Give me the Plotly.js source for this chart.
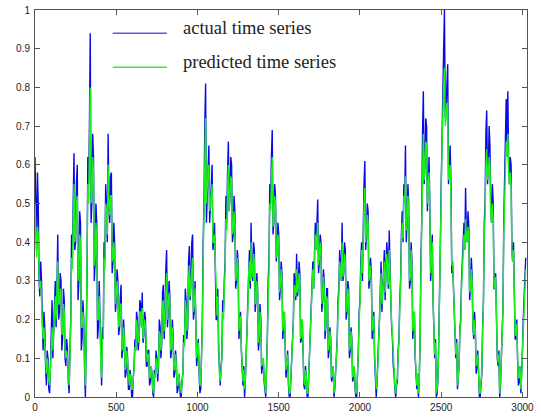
<!DOCTYPE html>
<html>
<head>
<meta charset="utf-8">
<script src="https://cdn.plot.ly/plotly-3.0.1.min.js"></script>
<style>html,body{margin:0;padding:0;background:#fff;}#chart{width:541px;height:417px;}</style>
</head>
<body>
<div id="chart"></div>
<script>
// sample spacing of the series (time steps)
const sampleStart = 0;
const sampleStep = 5;

const actualSeries = [
0.62,0.45,0.38,0.58,0.50,0.30,0.26,0.35,0.30,0.20,0.12,0.22,0.18,0.08,0.03,0.12,0.10,0.02,0.01,0.08,
0.15,0.25,0.10,0.20,0.24,0.30,0.18,0.28,0.42,0.20,0.22,0.32,0.30,0.12,0.15,0.28,0.25,0.10,0.08,0.15,
0.12,0.04,0.01,0.12,0.20,0.42,0.35,0.50,0.63,0.38,0.40,0.55,0.60,0.25,0.30,0.48,0.45,0.12,0.15,0.25,
0.20,0.08,0.00,0.15,0.30,0.62,0.55,0.70,0.94,0.45,0.50,0.68,0.62,0.30,0.35,0.50,0.45,0.15,0.18,0.30,
0.22,0.08,0.03,0.18,0.15,0.40,0.35,0.55,0.50,0.40,0.68,0.50,0.45,0.57,0.58,0.32,0.35,0.45,0.40,0.22,
0.25,0.33,0.30,0.16,0.18,0.26,0.29,0.10,0.12,0.20,0.16,0.05,0.06,0.13,0.10,0.02,0.02,0.07,0.05,0.00,
0.00,0.05,0.08,0.15,0.12,0.22,0.20,0.12,0.15,0.25,0.24,0.18,0.27,0.14,0.16,0.22,0.20,0.08,0.08,0.12,
0.12,0.03,0.04,0.08,0.06,0.01,0.00,0.07,0.05,0.12,0.10,0.04,0.08,0.20,0.18,0.10,0.14,0.27,0.29,0.15,
0.20,0.33,0.38,0.18,0.22,0.30,0.26,0.10,0.12,0.20,0.16,0.05,0.06,0.12,0.09,0.01,0.02,0.06,0.04,0.00,
0.00,0.04,0.06,0.16,0.14,0.28,0.25,0.15,0.18,0.35,0.39,0.25,0.30,0.40,0.42,0.20,0.22,0.30,0.15,0.08,
0.11,0.15,0.06,0.01,0.02,0.12,0.20,0.40,0.50,0.70,0.81,0.45,0.52,0.62,0.65,0.45,0.50,0.58,0.60,0.38,
0.40,0.45,0.32,0.20,0.20,0.28,0.12,0.05,0.03,0.08,0.10,0.25,0.22,0.30,0.35,0.52,0.45,0.58,0.66,0.48,
0.52,0.62,0.60,0.40,0.42,0.52,0.48,0.28,0.30,0.38,0.35,0.15,0.18,0.22,0.12,0.04,0.03,0.08,0.00,0.05,
0.10,0.18,0.25,0.35,0.38,0.28,0.45,0.32,0.30,0.40,0.38,0.22,0.25,0.32,0.28,0.12,0.15,0.24,0.20,0.06,
0.08,0.10,0.04,0.01,0.00,0.08,0.15,0.30,0.35,0.55,0.50,0.62,0.69,0.42,0.45,0.55,0.52,0.35,0.38,0.45,
0.42,0.25,0.28,0.35,0.32,0.15,0.18,0.22,0.12,0.05,0.08,0.12,0.03,0.00,0.00,0.06,0.08,0.18,0.20,0.32,
0.30,0.25,0.37,0.26,0.28,0.35,0.32,0.14,0.15,0.20,0.10,0.03,0.02,0.08,0.05,0.00,0.00,0.06,0.10,0.18,
0.22,0.30,0.35,0.28,0.42,0.45,0.38,0.48,0.51,0.32,0.35,0.42,0.40,0.22,0.25,0.33,0.30,0.15,0.18,0.28,
0.28,0.10,0.12,0.18,0.15,0.04,0.05,0.08,0.00,0.02,0.06,0.12,0.15,0.25,0.28,0.38,0.35,0.30,0.45,0.30,
0.32,0.40,0.38,0.20,0.22,0.30,0.28,0.10,0.12,0.18,0.15,0.04,0.05,0.08,0.02,0.00,0.00,0.05,0.12,0.22,
0.25,0.35,0.40,0.30,0.50,0.55,0.61,0.38,0.42,0.50,0.48,0.28,0.30,0.36,0.32,0.15,0.18,0.22,0.10,0.03,
0.00,0.04,0.08,0.15,0.20,0.30,0.35,0.22,0.28,0.36,0.38,0.25,0.32,0.40,0.36,0.28,0.43,0.30,0.25,0.18,
0.15,0.08,0.06,0.02,0.00,0.03,0.04,0.12,0.15,0.25,0.30,0.42,0.48,0.40,0.55,0.50,0.65,0.40,0.45,0.55,
0.50,0.28,0.30,0.40,0.35,0.15,0.18,0.22,0.10,0.03,0.02,0.06,0.00,0.05,0.15,0.35,0.45,0.68,0.79,0.55,
0.60,0.72,0.70,0.48,0.55,0.62,0.50,0.30,0.35,0.42,0.25,0.12,0.10,0.15,0.00,0.01,0.05,0.15,0.25,0.40,
0.55,0.70,0.80,0.90,1.00,0.72,0.75,0.85,0.86,0.55,0.60,0.65,0.55,0.32,0.35,0.28,0.22,0.12,0.10,0.15,
0.02,0.05,0.08,0.18,0.20,0.30,0.35,0.42,0.45,0.38,0.54,0.42,0.40,0.48,0.44,0.25,0.28,0.36,0.32,0.18,
0.15,0.22,0.18,0.06,0.08,0.12,0.05,0.00,0.00,0.04,0.06,0.18,0.25,0.45,0.50,0.68,0.74,0.55,0.60,0.70,
0.65,0.48,0.45,0.55,0.50,0.28,0.28,0.32,0.20,0.10,0.08,0.12,0.00,0.03,0.10,0.18,0.23,0.45,0.55,0.70,
0.77,0.65,0.79,0.60,0.55,0.62,0.60,0.38,0.35,0.40,0.30,0.15,0.15,0.20,0.10,0.03,0.04,0.08,0.01,0.05,
0.12,0.20,0.25,0.30,0.36
];

const predictedSeries = [
0.50,0.40,0.36,0.44,0.42,0.32,0.28,0.30,0.25,0.20,0.15,0.18,0.14,0.10,0.06,0.10,0.08,0.04,0.03,0.07,
0.12,0.18,0.12,0.18,0.22,0.26,0.20,0.26,0.35,0.24,0.24,0.28,0.27,0.16,0.17,0.24,0.22,0.12,0.10,0.12,
0.10,0.05,0.03,0.10,0.18,0.36,0.33,0.45,0.55,0.40,0.42,0.50,0.52,0.30,0.32,0.42,0.40,0.18,0.18,0.22,
0.18,0.08,0.03,0.14,0.28,0.55,0.50,0.65,0.80,0.50,0.52,0.62,0.58,0.34,0.36,0.45,0.40,0.20,0.20,0.26,
0.20,0.08,0.05,0.15,0.15,0.36,0.33,0.50,0.48,0.42,0.60,0.50,0.47,0.52,0.52,0.35,0.36,0.40,0.36,0.24,
0.26,0.30,0.27,0.18,0.19,0.24,0.24,0.12,0.13,0.18,0.15,0.07,0.08,0.12,0.09,0.04,0.03,0.06,0.05,0.02,
0.02,0.05,0.07,0.13,0.12,0.20,0.18,0.14,0.16,0.22,0.22,0.18,0.23,0.15,0.17,0.20,0.18,0.10,0.09,0.11,
0.11,0.05,0.05,0.08,0.06,0.02,0.01,0.06,0.05,0.10,0.09,0.06,0.09,0.17,0.16,0.12,0.15,0.24,0.25,0.17,
0.22,0.30,0.32,0.20,0.23,0.27,0.24,0.12,0.13,0.18,0.14,0.07,0.07,0.11,0.08,0.03,0.03,0.06,0.04,0.02,
0.01,0.04,0.06,0.14,0.13,0.25,0.23,0.17,0.20,0.31,0.34,0.26,0.30,0.35,0.36,0.22,0.24,0.28,0.16,0.10,
0.12,0.14,0.07,0.03,0.03,0.10,0.18,0.35,0.45,0.62,0.72,0.50,0.55,0.58,0.60,0.48,0.50,0.54,0.55,0.40,
0.40,0.42,0.32,0.22,0.21,0.26,0.13,0.06,0.04,0.08,0.10,0.22,0.20,0.28,0.33,0.46,0.43,0.54,0.60,0.48,
0.52,0.57,0.56,0.42,0.43,0.48,0.45,0.30,0.31,0.36,0.33,0.17,0.19,0.21,0.13,0.06,0.04,0.07,0.02,0.05,
0.10,0.16,0.23,0.32,0.35,0.30,0.40,0.32,0.31,0.37,0.35,0.24,0.25,0.30,0.27,0.14,0.16,0.22,0.18,0.08,
0.09,0.10,0.05,0.02,0.01,0.07,0.14,0.27,0.33,0.50,0.48,0.56,0.62,0.44,0.46,0.52,0.50,0.36,0.38,0.42,
0.40,0.27,0.29,0.33,0.30,0.17,0.19,0.22,0.13,0.07,0.09,0.11,0.04,0.01,0.01,0.06,0.08,0.16,0.19,0.29,
0.28,0.26,0.33,0.27,0.28,0.32,0.30,0.15,0.16,0.20,0.11,0.04,0.03,0.07,0.05,0.01,0.01,0.06,0.10,0.17,
0.21,0.28,0.33,0.28,0.40,0.42,0.38,0.43,0.45,0.34,0.36,0.40,0.38,0.24,0.26,0.31,0.28,0.17,0.19,0.26,
0.25,0.12,0.13,0.17,0.14,0.05,0.06,0.08,0.01,0.03,0.06,0.11,0.14,0.23,0.26,0.35,0.33,0.30,0.40,0.31,
0.33,0.37,0.35,0.22,0.23,0.28,0.26,0.12,0.13,0.17,0.14,0.05,0.06,0.08,0.03,0.01,0.01,0.05,0.11,0.20,
0.24,0.32,0.38,0.32,0.47,0.50,0.54,0.40,0.43,0.47,0.45,0.30,0.31,0.34,0.30,0.17,0.19,0.21,0.11,0.05,
0.02,0.05,0.08,0.14,0.19,0.28,0.32,0.24,0.29,0.34,0.35,0.27,0.32,0.37,0.34,0.29,0.38,0.30,0.26,0.19,
0.16,0.09,0.07,0.03,0.01,0.04,0.05,0.11,0.14,0.23,0.28,0.40,0.45,0.41,0.52,0.50,0.57,0.43,0.46,0.52,
0.47,0.30,0.31,0.38,0.33,0.17,0.19,0.22,0.11,0.05,0.03,0.06,0.01,0.05,0.14,0.32,0.42,0.60,0.68,0.56,
0.60,0.66,0.65,0.50,0.54,0.58,0.48,0.32,0.35,0.40,0.25,0.13,0.11,0.14,0.01,0.02,0.06,0.14,0.24,0.38,
0.52,0.65,0.75,0.80,0.85,0.70,0.72,0.76,0.75,0.56,0.58,0.60,0.52,0.34,0.35,0.28,0.22,0.13,0.11,0.14,
0.03,0.05,0.08,0.17,0.19,0.28,0.33,0.38,0.42,0.38,0.46,0.41,0.40,0.44,0.41,0.27,0.28,0.33,0.30,0.19,
0.16,0.20,0.17,0.08,0.09,0.11,0.05,0.01,0.01,0.04,0.07,0.17,0.24,0.42,0.47,0.60,0.64,0.56,0.58,0.62,
0.60,0.47,0.45,0.50,0.46,0.29,0.28,0.31,0.20,0.11,0.09,0.11,0.01,0.04,0.10,0.17,0.22,0.42,0.50,0.62,
0.66,0.62,0.68,0.58,0.55,0.58,0.55,0.37,0.35,0.38,0.29,0.16,0.16,0.19,0.10,0.05,0.05,0.08,0.02,0.05,
0.12,0.18,0.23,0.28,0.33
];

const legendLabels = ["actual time series", "predicted time series"];
const seriesColors = ["#0a0ae6", "#19f019"];
const legendLineColors = ["#5a5ae0", "#3ce83c"];

const traces = [
  {type: "scatter", mode: "lines", name: legendLabels[0], y: actualSeries,
   x0: sampleStart, dx: sampleStep, line: {color: seriesColors[0], width: 1.4}},
  {type: "scatter", mode: "lines", name: legendLabels[1], y: predictedSeries,
   x0: sampleStart, dx: sampleStep, line: {color: seriesColors[1], width: 1.4}}
];

const axisCommon = {
  showgrid: false, zeroline: false, showline: true, mirror: "ticks",
  linecolor: "#555", linewidth: 1, ticks: "inside", ticklen: 5,
  tickcolor: "#555", tickwidth: 1,
  tickfont: {family: "Liberation Sans, Arial, sans-serif", size: 10, color: "#222"}
};

const layout = {
  width: 541, height: 417,
  margin: {l: 35, r: 14, t: 10, b: 20},
  paper_bgcolor: "#fff", plot_bgcolor: "#fff",
  showlegend: false,
  xaxis: Object.assign({}, axisCommon, {range: [0, 3028], tick0: 0, dtick: 500, ticklabelstandoff: 1}),
  yaxis: Object.assign({}, axisCommon, {range: [0, 1], tick0: 0, dtick: 0.1, ticklabelstandoff: 2}),
  shapes: [
    {type: "line", xref: "paper", yref: "paper", x0: 0.158, x1: 0.268, y0: 0.940, y1: 0.940,
     line: {color: legendLineColors[0], width: 1.5}},
    {type: "line", xref: "paper", yref: "paper", x0: 0.158, x1: 0.268, y0: 0.852, y1: 0.852,
     line: {color: legendLineColors[1], width: 1.5}}
  ],
  annotations: [
    {xref: "paper", yref: "paper", x: 0.296, y: 0.953, xanchor: "left", yanchor: "middle",
     text: legendLabels[0], showarrow: false,
     font: {family: "Liberation Serif, Times New Roman, serif", size: 18.5, color: "#222"}},
    {xref: "paper", yref: "paper", x: 0.296, y: 0.865, xanchor: "left", yanchor: "middle",
     text: legendLabels[1], showarrow: false,
     font: {family: "Liberation Serif, Times New Roman, serif", size: 18.5, color: "#222"}}
  ]
};

Plotly.newPlot("chart", traces, layout, {displayModeBar: false, staticPlot: true});
</script>
</body>
</html>
